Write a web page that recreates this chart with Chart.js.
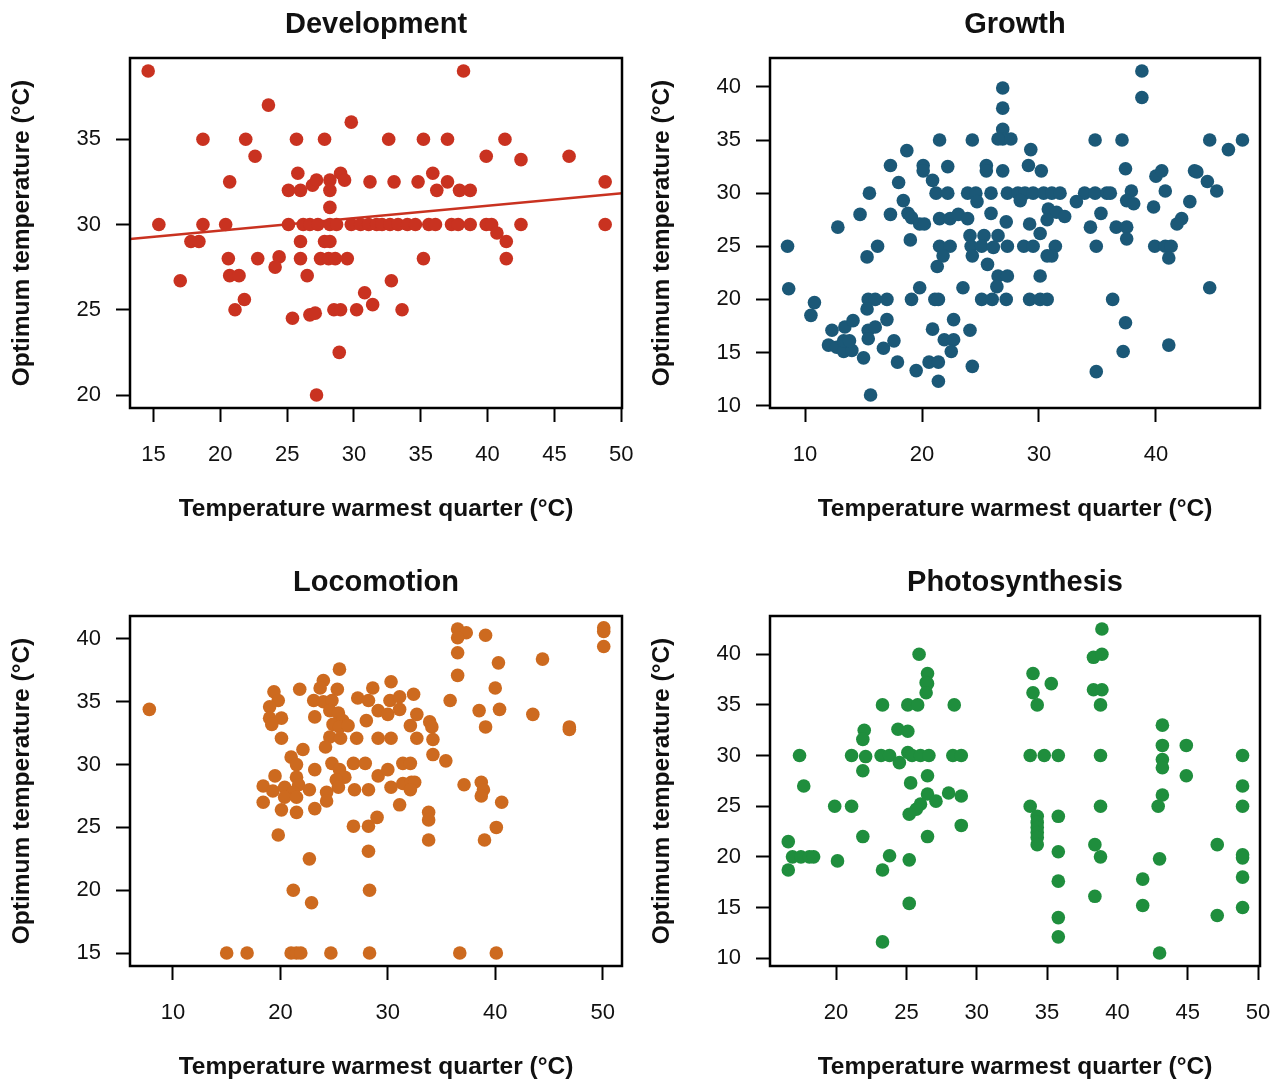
<!DOCTYPE html>
<html><head><meta charset="utf-8">
<script src="https://cdn.jsdelivr.net/npm/chart.js@4"></script>
<style>
html,body{margin:0;padding:0;background:#fff;overflow:hidden;width:1283px;height:1082px}
.p{position:absolute;width:641px;height:524px}
</style></head><body>
<div class="p" style="left:0;top:0"><canvas id="c1"></canvas></div>
<div class="p" style="left:640px;top:0"><canvas id="c2"></canvas></div>
<div class="p" style="left:0;top:558px"><canvas id="c3"></canvas></div>
<div class="p" style="left:640px;top:558px"><canvas id="c4"></canvas></div>
<script>
// ---- Development ----
const devX = [14.6,23.6,29.8,18.7,21.9,25.7,27.8,22.6,25.8,29.0,20.7,25.1,26.0,26.9,27.2,28.2,28.2,29.3,31.2,28.2,
 15.4,18.7,20.4,25.1,26.2,26.7,27.3,28.2,28.7,29.8,30.5,31.1,31.7,17.8,18.4,26.0,27.8,28.2,20.6,22.8,24.4,24.1,26.0,27.5,28.1,28.6,29.5,
 20.7,21.4,26.5,17.0,30.8,31.4,21.8,21.1,25.4,26.7,27.1,28.5,29.0,30.2,28.9,27.2,
 38.2,32.6,35.2,37.0,41.3,39.9,42.5,46.1,33.0,34.8,35.9,36.2,37.0,37.9,38.7,48.8,
 32.1,32.7,33.3,34.0,34.6,35.6,36.1,37.3,37.8,38.7,39.9,40.3,42.5,48.8,40.7,41.4,41.4,35.2,32.8,33.6];
const devY = [39,37,36,35,35,35,35,34,33,33,32.5,32,32,32.3,32.6,32.6,32.0,32.6,32.5,31,
 30,30,30,30,30,30,30,30,30,30,30,30,30,29,29,29,29,29,28,28,28.1,27.5,28,28,28,28,28,
 27,27,27,26.7,26,25.3,25.6,25,24.5,24.7,24.8,25,25,25,22.5,20,
 39,35,35,35,35,34,33.8,34,32.5,32.5,33,32,32.5,32,32,32.5,
 30,30,30,30,30,30,30,30,30,30,30,30,30,30,29.5,29,28,28,26.7,25];
const devFitX = [13.24, 50.06];
const devFitY = [29.15, 31.83];

// ---- Growth ----
const groX = [26.9,26.9,26.9,26.9,27.6,26.5,21.5,24.3,18.7,17.3,20.1,20.1,22.2,25.5,25.5,26.9,18.0,20.9,15.5,21.2,22.2,23.9,24.6,24.7,25.9,27.3,28.2,
 18.4,14.7,17.3,18.8,19.1,19.8,20.2,21.5,22.4,23.1,23.9,25.9,27.2,12.8,24.1,25.3,26.5,8.5,16.2,19.0,21.5,22.4,24.2,25.1,26.1,27.3,15.3,21.8,24.3,21.3,25.6,
 8.6,10.8,10.5,19.8,23.5,26.5,27.3,26.4,15.4,16.0,17.0,19.1,21.1,21.4,25.1,26.0,27.2,15.3,12.3,13.4,14.1,12.0,12.7,13.3,14.0,13.3,13.8,15.4,16.0,15.4,17.0,
 15.0,16.7,17.6,17.9,19.5,20.6,21.4,21.4,20.9,21.9,22.7,22.5,22.7,24.1,24.3,15.6,
 38.8,38.8,34.8,37.1,44.6,47.4,46.2,29.3,29.1,30.2,37.4,40.0,40.5,43.3,43.5,44.4,45.2,
 28.8,29.5,30.4,31.1,31.8,33.9,34.8,35.8,36.1,37.9,37.5,38.1,40.8,28.4,33.2,30.8,31.5,32.2,30.7,35.3,39.8,42.9,42.2,41.8,29.2,30.1,34.4,36.6,37.5,37.5,
 28.7,29.5,31.4,31.1,30.7,34.9,39.9,40.8,41.3,41.1,30.1,29.2,30.1,30.7,36.3,44.6,37.4,37.2,41.1,34.9];
const groY = [39.9,38.0,36.0,35.1,35.1,35.1,35,35,34,32.6,32.6,32.1,32.5,32.6,32.1,32.1,31,31.2,30,30,30,30,30,29.2,30,30,30,
 29.3,28,28,28.1,27.7,27.1,27.1,27.6,27.6,28,27.6,28.1,27.3,26.8,26,26,26,25,25,25.6,25,25,25,25,24.9,25,24,24.1,24.1,23.1,23.3,
 21,19.7,18.5,21.1,21.1,22.2,22.2,21.2,20,20,20,20,20,20,20,20,20,19.1,17.1,17.4,18,15.7,15.5,15.1,15.2,16.1,16.1,17.1,17.4,16.3,18.1,
 14.5,15.4,16.1,14.1,13.3,14.1,14.1,12.3,17.2,16.2,16.2,15.1,18.1,17.1,13.7,11,
 41.5,39,35,35,35,35,34.1,34.1,32.6,32.1,32.3,31.6,32.1,32.1,32,31.1,30.2,
 30,30,30,30,30,30,30,30,30,30.2,29.3,29,30.2,29.3,29.2,28.5,28.2,27.8,27.5,28.1,28.7,29.2,27.6,27.1,27.1,26.2,26.8,26.8,26.8,25.7,
 25,25,25,24.1,24.1,25,25,25,25,23.9,22.2,20,20,20,20,21.1,17.8,15.1,15.7,13.2];

// ---- Locomotion ----
const locX = [7.8,25.5,24.0,23.7,21.8,25.3,19.4,19.8,19.0,23.1,24.0,24.8,28.6,27.2,28.2,19.0,20.1,19.2,23.2,24.6,25.4,24.9,25.8,25.5,26.3,28.0,29.1,29.1,
 20.1,24.6,25.6,24.2,27.1,22.1,21.0,21.5,23.2,24.8,25.5,26.0,25.2,25.4,26.8,27.9,29.1,18.4,19.5,19.3,20.4,21.5,21.7,21.2,20.4,21.5,22.7,
 18.4,20.1,21.5,23.2,24.3,24.3,26.9,28.2,26.8,28.2,29.0,19.8,28.2,22.7,21.2,28.3,22.9,
 15.0,16.9,21.0,21.5,21.9,24.7,28.3,
 36.5,37.3,36.5,39.1,50.1,50.1,50.1,36.5,40.3,44.4,36.5,40.0,35.8,38.5,40.4,43.5,39.1,46.9,46.9,
 30.3,30.2,31.1,32.4,30.0,31.1,32.7,32.1,33.9,34.1,30.3,32.7,34.2,34.2,35.4,31.4,32.1,30.0,
 30.3,31.4,32.2,32.5,32.1,31.1,33.8,33.8,33.8,37.1,38.7,38.9,38.7,40.6,40.1,39.0,36.7,40.1];
const locY = [34.4,37.6,36.7,36.1,36,36,35.8,35.1,34.6,35.1,35,35.1,36.1,35.3,35.1,33.7,33.7,33.2,33.8,34.3,34.1,33.2,33.5,33,33.1,33.5,34.3,32.1,
 32.1,32.2,32.1,31.4,32.1,31.2,30.6,30,29.6,30.1,29.6,29,28.8,28.2,30.1,30.1,29.1,28.3,29.1,27.9,28.2,29,28.4,27.8,27.4,27.4,28,
 27,26.4,26.2,26.5,27.8,27.1,28,28,25.1,25.1,25.8,24.4,23.1,22.5,20,20,19,
 15,15,15,15,15,15,15,
 40.8,40.5,40.1,40.3,40.9,40.6,39.4,38.9,38.1,38.4,37.1,36.1,35.1,34.3,34.4,34,33,33,32.8,
 36.6,35.1,35.4,35.6,34,34.4,34,33.1,33.4,33,32.1,32.1,32,30.8,30.3,30.1,30.1,29.6,
 28.2,28.5,28.6,28.6,28,26.8,26.2,25.6,24,28.4,28.6,28,27.5,27,25,24,15,15];

// ---- Photosynthesis ----
const phoX = [25.9,26.5,26.4,26.5,26.4,23.3,25.1,25.8,28.4,22.0,21.9,24.4,25.1,17.4,21.1,22.1,23.2,23.8,24.5,25.1,25.4,26.0,26.6,28.3,28.9,
 21.9,26.5,17.7,25.3,26.5,27.1,28.0,28.9,26.0,25.7,25.2,19.9,21.1,28.9,21.9,26.5,16.6,16.9,17.5,18.1,18.4,16.6,20.1,23.8,23.3,25.2,25.2,23.3,
 38.9,38.3,38.9,34.0,35.3,34.0,34.3,38.3,38.9,38.8,33.8,34.8,35.8,38.8,33.8,34.3,34.3,34.3,34.3,34.3,34.3,35.8,35.8,35.8,35.8,35.8,
 38.8,38.4,38.8,38.4,43.2,43.2,43.2,43.2,44.9,44.9,43.2,42.9,43.0,41.8,41.8,43.0,47.1,47.1,48.9,48.9,48.9,48.9,48.9,48.9,48.9];
const phoY = [40,38.1,37.2,37.1,36.2,35,35,35,35,32.5,31.6,32.6,32.4,30,30,29.9,30,30,29.3,30.3,30,30,30,30,30,
 28.5,28,27,27.3,26.2,25.5,26.3,26,25.2,24.7,24.2,25,25,23.1,22,22,21.5,20,20,20,20,18.7,19.6,20.1,18.7,19.7,15.4,11.6,
 42.5,39.7,40,38.1,37.1,36.2,35,36.5,36.5,35,30,30,30,30,25,24,23.4,22.9,22.4,21.9,21.2,24,20.5,17.6,14,12.1,
 25,21.2,20,16.1,33,31,29.6,28.8,31,28,26.1,25,19.8,17.8,15.2,10.5,21.2,14.2,30,27,25,20.2,19.9,18,15];

// ---- axis limits & ticks ----
const devXLim = [13.24, 50.06], devYLim = [19.24, 39.76], devXStep = 5, devYStep = 5;
const groXLim = [7.0, 48.9],   groYLim = [9.78, 42.72], groXStep = 10, groYStep = 5;
const locXLim = [6.0, 51.8],   locYLim = [13.97, 41.83], locXStep = 10, locYStep = 5;
const phoXLim = [15.3, 50.14], phoYLim = [9.22, 43.78], phoXStep = 5, phoYStep = 5;

const xTitle = 'Temperature warmest quarter (°C)';
const yTitle = 'Optimum temperature (°C)';
const FONT = '"Liberation Sans", Arial, Helvetica, sans-serif';

const boxPlugin = {
  id: 'box',
  afterDatasetsDraw(chart) {
    const {ctx, chartArea: {left, top, right, bottom}} = chart;
    ctx.save();
    ctx.strokeStyle = '#000';
    ctx.lineWidth = 2.5;
    ctx.strokeRect(left, top, right - left, bottom - top);
    ctx.restore();
  }
};

function pts(xs, ys) { return xs.map((x, i) => ({x, y: ys[i]})); }

function makeChart(id, title, xs, ys, color, xLim, yLim, xStep, yStep, rightPad, fit) {
  const datasets = [{
    data: pts(xs, ys), backgroundColor: color, borderWidth: 0,
    pointRadius: 6.8, pointHoverRadius: 6.8
  }];
  if (fit) {
    datasets.push({
      data: pts(fit[0], fit[1]), showLine: true, borderColor: color, borderWidth: 2.5,
      pointRadius: 0, fill: false
    });
  }
  const grid = {drawOnChartArea: false, drawTicks: true, tickLength: 14, tickWidth: 2, tickColor: '#000'};
  new Chart(document.getElementById(id), {
    type: 'scatter',
    data: {datasets},
    options: {
      responsive: true, maintainAspectRatio: false, animation: false,
      layout: {padding: {left: 0, right: rightPad, top: 0, bottom: 0}},
      plugins: {
        legend: {display: false}, tooltip: {enabled: false},
        title: {display: true, fullSize: false, text: title, color: '#111',
          font: {family: FONT, size: 29, weight: 'bold'}, padding: {top: 7.4, bottom: 15.8}}
      },
      scales: {
        x: {
          type: 'linear', min: xLim[0], max: xLim[1],
          afterFit: s => { s.height = 116; s.paddingLeft = 0; s.paddingRight = 0; },
          ticks: {stepSize: xStep, includeBounds: false, autoSkip: false, maxRotation: 0,
            color: '#111', padding: 20, font: {family: FONT, size: 22}},
          grid, border: {display: false},
          title: {display: true, text: xTitle, color: '#111',
            font: {family: FONT, size: 24.5, weight: 'bold'}, padding: {top: 0, bottom: 0}}
        },
        y: {
          type: 'linear', min: yLim[0], max: yLim[1],
          afterFit: s => { s.width = 130; s.paddingTop = 0; s.paddingBottom = 0; },
          ticks: {stepSize: yStep, includeBounds: false, autoSkip: false,
            color: '#111', padding: 15, font: {family: FONT, size: 22}},
          grid, border: {display: false},
          title: {display: true, text: yTitle, color: '#111',
            font: {family: FONT, size: 24.5, weight: 'bold'}, padding: {top: 7.3, bottom: 0}}
        }
      }
    },
    plugins: [boxPlugin]
  });
}

makeChart('c1', 'Development', devX, devY, '#C93220', devXLim, devYLim, devXStep, devYStep, 19, [devFitX, devFitY]);
makeChart('c2', 'Growth', groX, groY, '#1B5877', groXLim, groYLim, groXStep, groYStep, 21, null);
makeChart('c3', 'Locomotion', locX, locY, '#CD6A1F', locXLim, locYLim, locXStep, locYStep, 19, null);
makeChart('c4', 'Photosynthesis', phoX, phoY, '#1F8E3D', phoXLim, phoYLim, phoXStep, phoYStep, 21, null);
</script>
</body></html>
